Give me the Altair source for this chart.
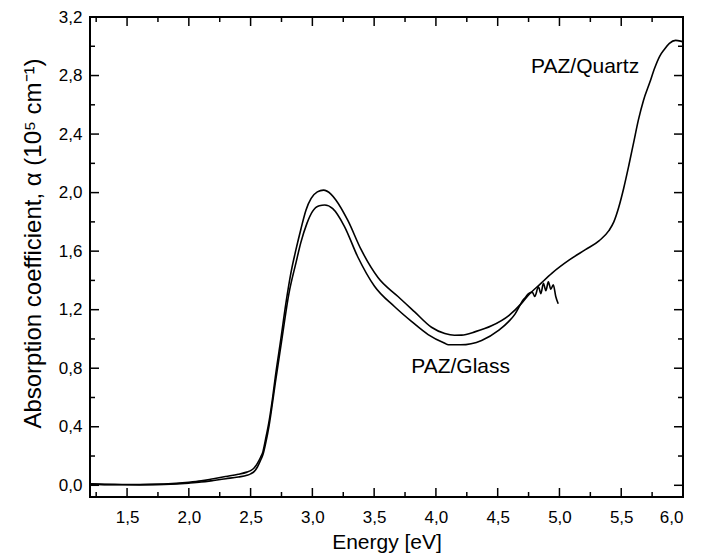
import altair as alt
import pandas as pd

# --- data ---
quartz_E = [1.20, 1.40, 1.60, 1.80, 2.00, 2.10, 2.20, 2.30, 2.40, 2.47, 2.50, 2.53, 2.555, 2.58,
            2.60, 2.62, 2.65, 2.68, 2.70, 2.745, 2.785, 2.826, 2.867, 2.907, 2.948, 2.99, 3.04,
            3.09, 3.15, 3.19, 3.287, 3.395, 3.531, 3.693, 3.828, 3.964, 4.072, 4.15, 4.208,
            4.32, 4.45, 4.59, 4.70, 4.75, 4.85, 4.94, 5.08, 5.21, 5.32, 5.40, 5.44, 5.48, 5.52,
            5.56, 5.60, 5.64, 5.68, 5.73, 5.77, 5.81, 5.85, 5.89, 5.94, 5.98, 6.00]
quartz_a = [0.010, 0.006, 0.005, 0.008, 0.020, 0.030, 0.045, 0.060, 0.075, 0.090, 0.100, 0.120,
            0.150, 0.19, 0.23, 0.31, 0.44, 0.61, 0.74, 1.00, 1.24, 1.45, 1.61, 1.75, 1.88, 1.96,
            2.005, 2.017, 1.99, 1.95, 1.81, 1.61, 1.42, 1.29, 1.185, 1.08, 1.037, 1.025, 1.026,
            1.05, 1.09, 1.16, 1.25, 1.30, 1.38, 1.45, 1.54, 1.61, 1.67, 1.74, 1.80, 1.90, 2.03,
            2.18, 2.34, 2.50, 2.63, 2.75, 2.85, 2.93, 2.98, 3.02, 3.04, 3.035, 3.03]

glass_E = [1.20, 1.40, 1.60, 1.80, 2.00, 2.10, 2.20, 2.30, 2.40, 2.47, 2.50, 2.53, 2.555, 2.58,
           2.60, 2.62, 2.65, 2.68, 2.70, 2.75, 2.81, 2.867, 2.907, 2.956, 3.00, 3.056, 3.10,
           3.165, 3.259, 3.368, 3.503, 3.666, 3.802, 3.937, 4.072, 4.10, 4.20, 4.37, 4.51,
           4.59, 4.64, 4.68, 4.70, 4.72, 4.75, 4.78, 4.80, 4.83, 4.85, 4.87, 4.89, 4.91, 4.93,
           4.95, 4.97, 4.99]
glass_a = [0.008, 0.004, 0.003, 0.006, 0.015, 0.022, 0.033, 0.045, 0.057, 0.068, 0.078, 0.095,
           0.125, 0.17, 0.21, 0.28, 0.41, 0.58, 0.70, 0.98, 1.31, 1.52, 1.66, 1.79, 1.87, 1.91,
           1.915, 1.89, 1.77, 1.56, 1.36, 1.22, 1.12, 1.03, 0.97, 0.96, 0.96, 0.99, 1.06, 1.12,
           1.17, 1.23, 1.26, 1.28, 1.31, 1.32, 1.29, 1.356, 1.31, 1.38, 1.33, 1.39, 1.34, 1.37,
           1.29, 1.24]

x_major = [1.5, 2.0, 2.5, 3.0, 3.5, 4.0, 4.5, 5.0, 5.5, 6.0]
x_minor = [1.25, 1.75, 2.25, 2.75, 3.25, 3.75, 4.25, 4.75, 5.25, 5.75]
y_major = [0.0, 0.4, 0.8, 1.2, 1.6, 2.0, 2.4, 2.8, 3.2]
y_minor = [0.2, 0.6, 1.0, 1.4, 1.8, 2.2, 2.6, 3.0]

labels_text = ["PAZ/Quartz", "PAZ/Glass"]
labels_E = [4.77, 3.80]
labels_a = [2.815, 0.77]

W, H = 593, 480
FONT = "Liberation Sans, Arial, sans-serif"
MAJ, MIN = 9, 5

df = pd.concat([
    pd.DataFrame({"E": quartz_E, "a": quartz_a, "s": "PAZ/Quartz"}),
    pd.DataFrame({"E": glass_E, "a": glass_a, "s": "PAZ/Glass"}),
])

xs = alt.Scale(domain=[1.2, 6.0], nice=False, zero=False)
ys = alt.Scale(domain=[-0.08, 3.2], nice=False, zero=False)
lab = "replace(format(datum.value, '.1f'), '.', ',')"

lines = alt.Chart(df).mark_line(color="black", strokeWidth=1.6, interpolate="monotone").encode(
    x=alt.X("E:Q", scale=xs, title="Energy [eV]",
            axis=alt.Axis(values=x_major, labelExpr=lab, labelPadding=12,
                          titleBaseline="alphabetic", titleY=51)),
    y=alt.Y("a:Q", scale=ys, title="Absorption coefficient, α (10⁵ cm⁻¹)",
            axis=alt.Axis(values=y_major, labelExpr=lab, labelPadding=8,
                          titleBaseline="alphabetic", titleX=-50, titleY=226,
                          titleFontSize=24)),
    detail="s:N",
)

dxM = pd.DataFrame({"E": x_major})
dxm = pd.DataFrame({"E": x_minor})
dyM = pd.DataFrame({"a": y_major})
dym = pd.DataFrame({"a": y_minor})


def xticks(d, L):
    b = alt.Chart(d).mark_rule(color="black", strokeWidth=1.5).encode(
        x=alt.X("E:Q", scale=xs), y=alt.value(H), y2=alt.value(H - L))
    t = alt.Chart(d).mark_rule(color="black", strokeWidth=1.5).encode(
        x=alt.X("E:Q", scale=xs), y=alt.value(0), y2=alt.value(L))
    return [b, t]


def yticks(d, L):
    l = alt.Chart(d).mark_rule(color="black", strokeWidth=1.5).encode(
        y=alt.Y("a:Q", scale=ys), x=alt.value(0), x2=alt.value(L))
    r = alt.Chart(d).mark_rule(color="black", strokeWidth=1.5).encode(
        y=alt.Y("a:Q", scale=ys), x=alt.value(W), x2=alt.value(W - L))
    return [l, r]


tdf = pd.DataFrame({"t": labels_text, "E": labels_E, "a": labels_a})
texts = alt.Chart(tdf).mark_text(align="left", baseline="alphabetic", fontSize=21,
                                 font=FONT, color="black").encode(
    x=alt.X("E:Q", scale=xs), y=alt.Y("a:Q", scale=ys), text="t:N")

chart = alt.layer(
    lines, *xticks(dxM, MAJ), *xticks(dxm, MIN), *yticks(dyM, MAJ), *yticks(dym, MIN), texts
).properties(
    width=W, height=H,
    autosize=alt.AutoSizeParams(type="none"),
    padding={"left": 82, "top": 9, "right": 21, "bottom": 58},
).configure_view(
    stroke="black", strokeWidth=2
).configure_axis(
    domain=False, ticks=False, grid=False,
    labelFont=FONT, labelFontSize=17, labelColor="black",
    titleFont=FONT, titleFontSize=21, titleFontWeight="normal", titleColor="black",
)

chart.save("out.html", embed_options={"renderer": "svg", "actions": False})
